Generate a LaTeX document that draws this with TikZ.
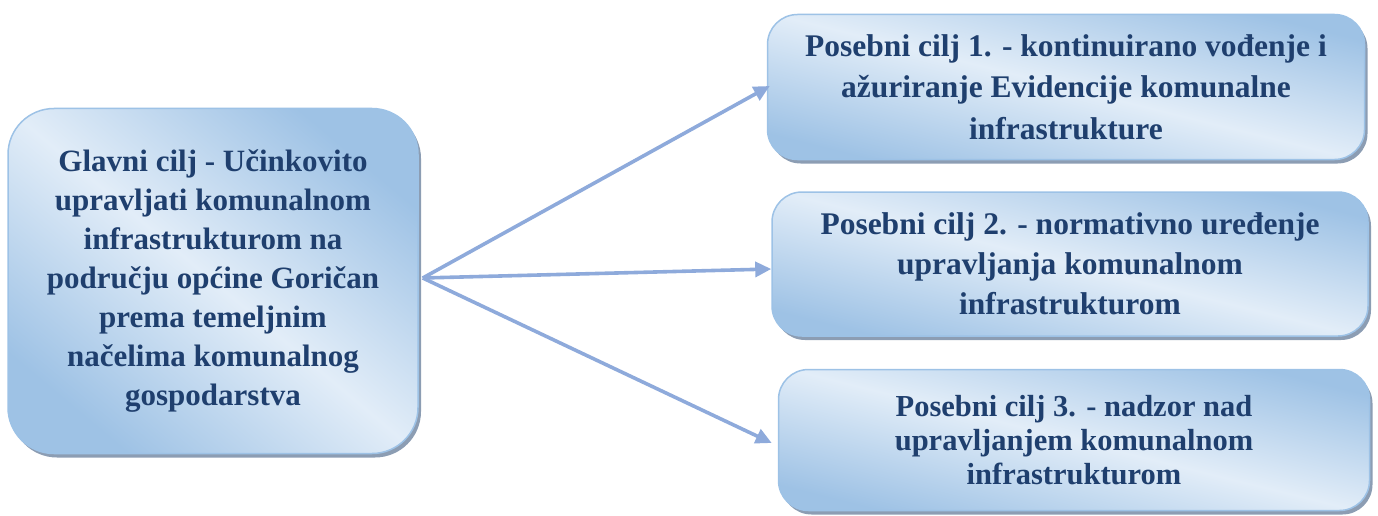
\documentclass[tikz,border=0pt]{standalone}
\usepackage{fontspec}
\setmainfont{Liberation Serif}
\usetikzlibrary{arrows.meta,shadows}
\definecolor{ciljtekst}{HTML}{1F3F6E}
\definecolor{ciljsvijetlo}{HTML}{E2EDF8}
\definecolor{ciljtamno}{HTML}{9EC2E5}
\definecolor{ciljrub}{HTML}{9DC2E6}
\definecolor{ciljsjena}{HTML}{8C9DB3}
\definecolor{strelica}{HTML}{8EAADB}
\newcommand{\ciljslova}[2]{\fontsize{#1}{#2}\selectfont\bfseries}
\tikzset{
  ciljbox/.style={rounded corners=#1, draw=ciljrub, line width=1.5pt,
    top color=ciljtamno, bottom color=ciljtamno, middle color=ciljsvijetlo,
    align=center, text=ciljtekst,
    drop shadow={shadow xshift=3pt, shadow yshift=-4pt, fill=ciljsjena, opacity=1}},
  veza/.style={draw=strelica, line width=3.6pt, -{Triangle[length=16pt,width=15pt]}}
}
\begin{document}
\begin{tikzpicture}
    \useasboundingbox (0pt,0pt) rectangle (1378pt,-516pt);
    % glavni cilj
    \node[ciljbox=46pt, shading angle=-40, minimum width=410pt, minimum height=345pt,
      font=\ciljslova{31pt}{39pt}] (glavni) at (213pt,-281pt)
      {Glavni cilj - Učinkovito\\ upravljati komunalnom\\ infrastrukturom na\\ području općine Goričan\\ prema temeljnim\\ načelima komunalnog\\ gospodarstva};
    % posebni ciljevi
    \node[ciljbox=30pt, shading angle=-14, minimum width=597pt, minimum height=145pt,
      font=\ciljslova{31.5pt}{41.5pt}] (cilj1) at (1066pt,-87pt)
      {Posebni cilj 1. - kontinuirano vođenje i\\ ažuriranje Evidencije komunalne\\ infrastrukture};
    \node[ciljbox=30pt, shading angle=-14, minimum width=596pt, minimum height=144pt,
      font=\ciljslova{31.5pt}{40pt}] (cilj2) at (1070pt,-264pt)
      {Posebni cilj 2. - normativno uređenje\\ upravljanja komunalnom\\ infrastrukturom};
    \node[ciljbox=30pt, shading angle=-14, minimum width=591pt, minimum height=141pt,
      font=\ciljslova{30.5pt}{34pt}] (cilj3) at (1074pt,-440pt)
      {Posebni cilj 3. - nadzor nad\\ upravljanjem komunalnom\\ infrastrukturom};
    \coordinate (izvor) at ([xshift=4pt,yshift=3pt]glavni.east);
    \draw[veza] (izvor) -- ([xshift=3pt,yshift=1pt]cilj1.west);
    \draw[veza] (izvor) -- ([yshift=-5pt]cilj2.west);
    \draw[veza] (izvor) -- ([xshift=-6pt,yshift=-3pt]cilj3.west);
\end{tikzpicture}
\end{document}
